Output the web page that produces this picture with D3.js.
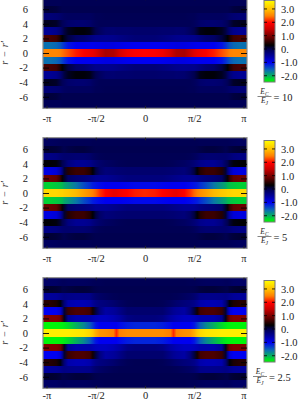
<!DOCTYPE html>
<html><head><meta charset="utf-8">
<style>html,body{margin:0;padding:0;background:#fff;overflow:hidden}svg{display:block}text{font-family:"Liberation Serif",serif;fill:#222}</style>
<script src="https://cdn.jsdelivr.net/npm/d3@7"></script></head>
<body><svg id="c" width="302" height="401"></svg>
<script>
const ratios = ["10", "5", "2.5"];
const rows = [0, 1, 2, 3, 4, 5, 6, 7];
// phase of each sample, in units of pi, from -pi to 0 (mirrored for 0 to pi)
const phases = [-1,-.96,-.9,-.86,-.84,-.82,-.78,-.7,-.62,-.56,-.53,-.5,-.46,-.4,-.32,-.29,-.26,-.18,-.1,0];
const panelA = [
 [2.55,2.55,2.55,2.5,2.45,2.4,2.3,2.1,1.95,1.85,1.8,1.7,1.5,1.3,1.35,1.45,1.6,1.85,1.95,2.0],
 [-1.6,-1.6,-1.55,-1.45,-1.35,-1.25,-1.1,-1,-.98,-.98,-.98,-.96,-.95,-.92,-.92,-.94,-.95,-.98,-1,-1],
 [.7,.7,.65,.45,.3,.2,.05,-.15,-.2,-.3,-.35,-.4,-.4,-.42,-.4,-.38,-.35,-.3,-.25,-.25],
 [-.45,-.45,-.4,-.25,-.1,.05,.18,.27,.27,.22,.1,0,-.1,-.2,-.22,-.2,-.2,-.2,-.18,-.18],
 [.18,.18,.15,.03,-.05,-.1,-.18,-.22,-.22,-.18,-.12,-.08,-.05,-.05,-.05,-.05,-.05,-.05,-.05,-.05],
 [-.25,-.25,-.22,-.18,-.15,-.12,-.1,-.1,-.1,-.1,-.08,-.05,-.05,-.03,-.03,-.03,-.03,-.03,-.03,-.03],
 [.08,.08,.06,.02,0,0,0,0,0,0,0,0,0,0,0,0,0,0,0,0],
 [-.05,-.05,-.05,-.05,-.03,-.03,-.03,-.03,-.03,-.03,-.03,-.03,-.03,-.03,-.03,-.03,-.03,-.03,-.03,-.03]
];
const panelB = [
 [3.25,3.25,3.25,3.2,3.2,3.15,3.1,2.95,2.75,2.6,2.5,2.4,2.2,2.0,1.8,1.82,1.88,2.0,2.1,2.15],
 [-2.2,-2.2,-2.15,-2.1,-2.05,-1.95,-1.85,-1.65,-1.4,-1.25,-1.15,-1.1,-1.05,-1,-1,-1,-1,-1.02,-1.05,-1.05],
 [.9,.9,.85,.6,.35,.15,-.15,-.25,-.3,-.35,-.4,-.45,-.45,-.45,-.4,-.38,-.35,-.3,-.3,-.3],
 [-.9,-.9,-.85,-.6,-.3,.1,.5,.62,.62,.5,.28,.05,-.15,-.28,-.25,-.23,-.22,-.2,-.2,-.2],
 [.28,.28,.25,.12,0,-.1,-.32,-.45,-.45,-.4,-.32,-.25,-.18,-.12,-.08,-.06,-.05,-.03,-.03,-.03],
 [-.35,-.35,-.32,-.25,-.22,-.2,-.2,-.22,-.22,-.18,-.12,-.08,-.05,-.03,-.03,-.03,-.03,-.03,-.03,-.03],
 [.1,.1,.08,.05,.02,0,.03,.06,.06,.03,.01,0,0,0,0,0,0,0,0,0],
 [-.1,-.1,-.08,-.06,-.05,-.05,-.05,-.05,-.05,-.05,-.03,-.03,-.03,-.03,-.03,-.03,-.03,-.03,-.03,-.03]
];
const panelC = [
 [3.5,3.5,3.5,3.5,3.5,3.5,3.5,3.45,3.4,3.25,3.1,2.85,2.65,2.6,2.5,2.15,2.5,2.6,2.6,2.6],
 [-2.42,-2.42,-2.42,-2.4,-2.38,-2.35,-2.25,-2.0,-1.75,-1.5,-1.3,-1.1,-1,-1,-1,-1,-1.05,-1.15,-1.2,-1.2],
 [1.05,1.05,1.05,.95,.7,.2,-.45,-.6,-.6,-.6,-.65,-.7,-.72,-.72,-.65,-.6,-.55,-.35,-.3,-.3],
 [-1,-1,-1,-.85,-.5,.1,.62,.72,.72,.66,.4,.05,-.3,-.55,-.5,-.45,-.38,-.2,-.2,-.2],
 [.5,.5,.45,.28,.05,-.25,-.6,-.65,-.65,-.6,-.48,-.38,-.32,-.28,-.2,-.16,-.12,-.05,-.03,-.03],
 [-.5,-.5,-.48,-.42,-.38,-.35,-.38,-.4,-.4,-.38,-.28,-.2,-.15,-.1,-.05,-.04,-.03,-.03,-.03,-.03],
 [.12,.12,.1,.07,.03,.03,.05,.08,.08,.06,.03,.01,0,0,0,0,0,0,0,0],
 [-.15,-.15,-.14,-.1,-.08,-.08,-.1,-.1,-.1,-.08,-.06,-.05,-.05,-.03,-.03,-.03,-.03,-.03,-.03,-.03]
];
const panels = [panelA, panelB, panelC];
const colorValues = [-2.47,-2.3,-1.6,-1,-.5,0,.3,.8,1.5,2,2.5,3,3.67];
const colorList = ["#00ff00","#00e020","#0a70b0","#0000f0","#00009a","#000050","#000000","#5a0000","#c80000","#ff0000","#ff8000","#ffc000","#ffff00"];
const yTicks = [-6,-4,-2,0,2,4,6];
const xTicks = [-Math.PI,-Math.PI/2,0,Math.PI/2,Math.PI];
const xTickLabels = ["-π","-π/2","0","π/2","π"];
const barTicks = [-2,-1,0,1,2,3];
const barLabels = ["-2.0","-1.0","0.","1.0","2.0","3.0"];

const color = d3.scaleLinear().domain(colorValues).range(colorList).clamp(true);
const svg = d3.select("#c");
const defs = svg.append("defs");
const x = d3.scaleLinear().domain([-Math.PI,Math.PI]).range([46.5,243.5]);
const xEdge = [43,247];
const allPhases = phases.concat(phases.slice(0,-1).reverse().map(p=>-p));

panels.forEach((panel,pi)=>{
  const off = pi*140;
  const g = svg.append("g").attr("transform",`translate(0,${off})`);
  const y = d3.scaleLinear().domain([-7.58,7.58]).range([108.3,-2.3]);
  const rowH = Math.abs(y(1)-y(0));
  const rowList = rows.slice().reverse().map(r=>-r).concat(rows.slice(1));
  rowList.forEach(r=>{
    const vals = panel[Math.abs(r)];
    const full = vals.concat(vals.slice(0,-1).reverse());
    const id = `g${pi}_${r+8}`;
    const lg = defs.append("linearGradient").attr("id",id).attr("gradientUnits","userSpaceOnUse")
      .attr("x1",x(-Math.PI)).attr("x2",x(Math.PI)).attr("y1",0).attr("y2",0);
    lg.selectAll("stop").data(full).join("stop")
      .attr("offset",(d,i)=>(allPhases[i]+1)/2)
      .attr("stop-color",d=>color(d));
    g.append("rect").attr("x",xEdge[0]).attr("width",xEdge[1]-xEdge[0])
      .attr("y",y(r)-rowH/2).attr("height",rowH).attr("shape-rendering","crispEdges").attr("fill",`url(#${id})`);
  });
  // frame
  g.append("rect").attr("x",xEdge[0]).attr("y",y.range()[1]).attr("width",xEdge[1]-xEdge[0])
    .attr("height",y.range()[0]-y.range()[1]).attr("fill","none").attr("stroke","#8a8a8a").attr("stroke-width",1.2);
  // axes
  const ax = g.append("g").attr("transform",`translate(${xEdge[0]},0)`)
    .call(d3.axisLeft(y).tickValues(yTicks).tickSize(-6).tickPadding(15).tickFormat(d=>d));
  ax.select(".domain").remove();
  ax.selectAll("line").attr("stroke","#000").attr("stroke-width",.9);
  ax.selectAll("text").attr("font-size",10.5).attr("fill","#222");
  const ar = g.append("g").attr("transform",`translate(${xEdge[1]},0)`)
    .call(d3.axisRight(y).tickValues(yTicks).tickSize(-6).tickFormat(""));
  ar.select(".domain").remove();
  ar.selectAll("line").attr("stroke","#000").attr("stroke-width",.9);
  const bx = g.append("g").attr("transform",`translate(0,${y.range()[0]})`)
    .call(d3.axisBottom(x).tickValues(xTicks).tickSize(-2.5).tickPadding(pi===2?3:6).tickFormat((d,i)=>xTickLabels[i]));
  bx.select(".domain").remove();
  bx.selectAll("line").attr("stroke","#222");
  bx.selectAll("text").attr("font-size",10.5).attr("fill","#222");
  const tx = g.append("g").attr("transform",`translate(0,${y.range()[1]})`)
    .call(d3.axisTop(x).tickValues(xTicks).tickSize(-2.5).tickFormat(""));
  tx.select(".domain").remove();
  tx.selectAll("line").attr("stroke","#222");
  // axis title
  g.append("text").attr("transform",`translate(8,53) rotate(-90)`).attr("text-anchor","middle")
    .attr("font-size",10).attr("font-style","italic").attr("word-spacing",1).text("r − r′");

  // colour bar
  const barY = d3.scaleLinear().domain([-2.47,3.67]).range([82,0]);
  const bid = `bar${pi}`;
  const blg = defs.append("linearGradient").attr("id",bid).attr("x1",0).attr("x2",0).attr("y1",1).attr("y2",0);
  blg.selectAll("stop").data(colorValues).join("stop")
    .attr("offset",d=>(d+2.47)/6.14).attr("stop-color",d=>color(d));
  g.append("rect").attr("x",264).attr("y",Math.max(barY(3.67),0.5)).attr("width",11).attr("height",81.5)
    .attr("fill",`url(#${bid})`).attr("stroke","#777").attr("stroke-width",1);
  const ba = g.append("g").attr("transform","translate(275,0)")
    .call(d3.axisRight(barY).tickValues(barTicks).tickSize(0).tickPadding(6).tickFormat((d,i)=>barLabels[i]));
  ba.select(".domain").remove();
  ba.selectAll("text").attr("font-size",10.5).attr("fill","#222");
  barTicks.forEach(t=>{
    g.append("line").attr("x1",264).attr("x2",267).attr("y1",barY(t)).attr("y2",barY(t)).attr("stroke","#000").attr("stroke-width",.8);
    g.append("line").attr("x1",272).attr("x2",275).attr("y1",barY(t)).attr("y2",barY(t)).attr("stroke","#000").attr("stroke-width",.8);
  });
  // caption
  const cx = pi===2 ? 260 : 264.5;
  const cap = g.append("g").attr("font-size",7.5).attr("font-style","italic");
  const t1 = cap.append("text").attr("x",cx).attr("y",94).attr("text-anchor","middle").text("E");
  t1.append("tspan").attr("font-size",5.5).attr("dy",1.5).text("C");
  const t2 = cap.append("text").attr("x",cx).attr("y",103).attr("text-anchor","middle").text("E");
  t2.append("tspan").attr("font-size",5.5).attr("dy",1.5).text("J");
  g.append("line").attr("x1",cx-7).attr("x2",cx+7).attr("y1",96.5).attr("y2",96.5).attr("stroke","#333").attr("stroke-width",.6);
  g.append("text").attr("x",cx+9).attr("y",100.5).attr("font-size",10.5).text("= "+ratios[pi]);
});
</script></body></html>
